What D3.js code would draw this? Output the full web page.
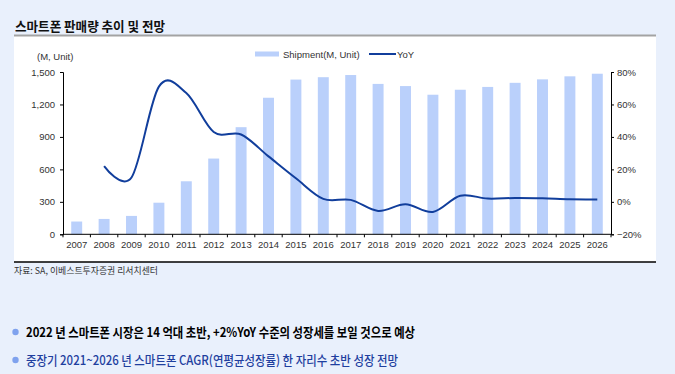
<!DOCTYPE html>
<html>
<head>
<meta charset="utf-8">
<script src="https://cdn.jsdelivr.net/npm/d3@7"></script>
<style>
  body { margin: 0; background: #e9f0fc; }
  svg { display: block; }
  .tick text { font-family: "Liberation Sans Narrow", "Liberation Sans", Arial, sans-serif; font-size: 9.5px; fill: #333; }
</style>
</head>
<body>
<svg id="chart" width="675" height="374"></svg>
<script>
// data
const years = ["2007","2008","2009","2010","2011","2012","2013","2014","2015","2016",
               "2017","2018","2019","2020","2021","2022","2023","2024","2025","2026"];
const shipment = [118, 142, 170, 292, 490, 700, 990, 1262, 1430, 1452,
                  1472, 1390, 1370, 1290, 1336, 1362, 1400, 1432, 1460, 1484];
// YoY starts in 2008
const yoyYears = years.slice(1);
const yoy = [22, 15, 71, 67, 43, 41.5, 28, 14.5, 1.8, 1.2,
             -5.6, -1.5, -6.2, 3.8, 2.0, 2.4, 2.2, 1.6, 1.5];
const leftTicks = [0, 300, 600, 900, 1200, 1500];
const rightTicks = [-20, 0, 20, 40, 60, 80];

const barColor = "#bad0fb";
const lineColor = "#113e9c";

const svg = d3.select("#chart");

// background + panel
svg.append("rect").attr("width", 675).attr("height", 374).attr("fill", "#e9f0fc");
svg.append("rect").attr("x", 14).attr("y", 36).attr("width", 642).attr("height", 226).attr("fill", "#fff");

// title
svg.append("text").attr("x", 15).attr("y", 31)
  .attr("font-family", "'Noto Sans CJK KR', sans-serif").attr("font-weight", "bold")
  .attr("font-size", 13).attr("fill", "#111")
  .attr("textLength", 150).attr("lengthAdjust", "spacingAndGlyphs")
  .text("스마트폰 판매량 추이 및 전망");
svg.append("line").attr("x1", 14).attr("x2", 656).attr("y1", 35.5).attr("y2", 35.5)
  .attr("stroke", "#a3a3a3").attr("stroke-width", 2);
svg.append("line").attr("x1", 14).attr("x2", 656).attr("y1", 262).attr("y2", 262)
  .attr("stroke", "#000").attr("stroke-width", 1.5);

// scales
const x = d3.scaleBand().domain(years).range([63, 611]);
const yL = d3.scaleLinear().domain([0, 1500]).range([234.3, 72]);
const yR = d3.scaleLinear().domain([-20, 80]).range([234.3, 72]);

// bars
const bw = x.bandwidth() * 0.4;
svg.append("g").selectAll("rect").data(years).enter().append("rect")
  .attr("x", function(d) { return x(d) + (x.bandwidth() - bw) / 2; })
  .attr("y", function(d, i) { return yL(shipment[i]); })
  .attr("width", bw)
  .attr("height", function(d, i) { return yL(0) - yL(shipment[i]); })
  .attr("fill", barColor);

// yoy line, smoothed like excel
const line = d3.line()
  .x(function(d, i) { return x(yoyYears[i]) + x.bandwidth() / 2; })
  .y(function(d) { return yR(d); })
  .curve(d3.curveCatmullRom.alpha(0));
svg.append("path").datum(yoy).attr("d", line)
  .attr("fill", "none").attr("stroke", lineColor).attr("stroke-width", 2);

// axes
const gL = svg.append("g").attr("transform", "translate(63,0)")
  .call(d3.axisLeft(yL).tickValues(leftTicks).tickSize(3).tickPadding(5).tickFormat(d3.format(",")));
const gR = svg.append("g").attr("transform", "translate(611,0)")
  .call(d3.axisRight(yR).tickValues(rightTicks).tickSize(3).tickPadding(3)
    .tickFormat(function(d) { return (d < 0 ? "\u2212" + (-d) : d) + "%"; }));
const gX = svg.append("g").attr("transform", "translate(0,234.3)")
  .call(d3.axisBottom(x).tickSize(0).tickPadding(7));
[gL, gR, gX].forEach(function(g) {
  g.select(".domain").attr("stroke", "#000");
  g.selectAll(".tick line").attr("stroke", "#000");
});
gX.select(".domain").attr("d", "M63,0H611");
// category boundary ticks
gX.selectAll(".bound").data(years.concat(["end"])).enter().append("line")
  .attr("class", "bound")
  .attr("x1", function(d, i) { return 63 + i * x.bandwidth(); })
  .attr("x2", function(d, i) { return 63 + i * x.bandwidth(); })
  .attr("y1", 0).attr("y2", 3).attr("stroke", "#000");

// unit label
svg.append("text").attr("x", 37).attr("y", 60)
  .attr("font-family", "'Liberation Sans Narrow', 'Liberation Sans', Arial, sans-serif")
  .attr("font-size", 9.5).attr("fill", "#333").text("(M, Unit)");

// legend
const leg = svg.append("g")
  .attr("font-family", "'Liberation Sans Narrow', 'Liberation Sans', Arial, sans-serif")
  .attr("font-size", 9.5).attr("fill", "#333");
leg.append("rect").attr("x", 255).attr("y", 51.5).attr("width", 24).attr("height", 5).attr("fill", barColor);
leg.append("text").attr("x", 283).attr("y", 57.5).text("Shipment(M, Unit)");
leg.append("line").attr("x1", 369).attr("x2", 396).attr("y1", 54).attr("y2", 54)
  .attr("stroke", lineColor).attr("stroke-width", 2);
leg.append("text").attr("x", 397).attr("y", 57.5).text("YoY");

// source
svg.append("text").attr("x", 14).attr("y", 274)
  .attr("font-family", "'Noto Sans CJK KR', sans-serif").attr("font-size", 9)
  .attr("fill", "#333").attr("textLength", 144).attr("lengthAdjust", "spacingAndGlyphs")
  .text("자료: SA, 이베스트투자증권 리서치센터");

// bullets
const notes = [
  {t: "2022 년 스마트폰 시장은 14 억대 초반, +2%YoY 수준의 성장세를 보일 것으로 예상", y: 337, w: 389, c: "#000", fw: "bold"},
  {t: "중장기 2021~2026 년 스마트폰 CAGR(연평균성장률) 한 자리수 초반 성장 전망", y: 365, w: 372, c: "#1f3f9f", fw: "500"}
];
const nG = svg.append("g").selectAll("g").data(notes).enter().append("g");
nG.append("circle").attr("cx", 15.5).attr("cy", function(d) { return d.y - 5; }).attr("r", 3.2).attr("fill", "#7fa2ee");
nG.append("text").attr("x", 26).attr("y", function(d) { return d.y; })
  .attr("font-family", "'Noto Sans CJK KR', sans-serif").attr("font-size", 13)
  .attr("font-weight", function(d) { return d.fw; })
  .attr("fill", function(d) { return d.c; })
  .attr("textLength", function(d) { return d.w; }).attr("lengthAdjust", "spacingAndGlyphs")
  .text(function(d) { return d.t; });
</script>
</body>
</html>
